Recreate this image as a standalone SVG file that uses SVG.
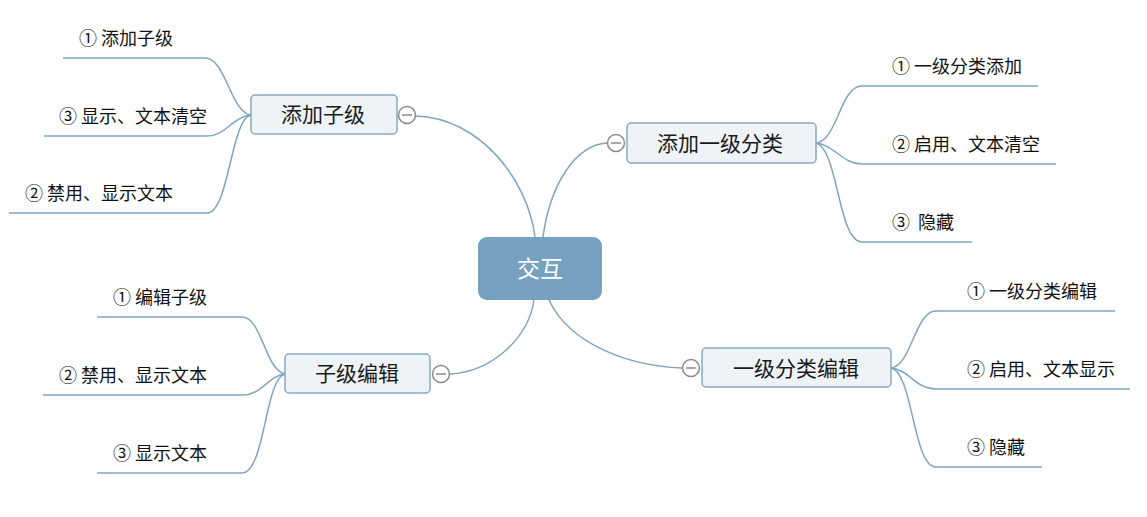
<svg xmlns="http://www.w3.org/2000/svg" width="1147" height="517" viewBox="0 0 1147 517">
  <style>
    .link { fill: none; stroke: #7fa5c2; stroke-width: 1.5; }
    .topic { fill: #eef3f7; stroke: #87a9c3; stroke-width: 1.5; }
    .root { fill: #76a1c0; }
    .t-root { font-family: "Noto Sans CJK SC", "Noto Sans", sans-serif; font-size: 23px; fill: #ffffff; text-anchor: middle; }
    .t-topic { font-family: "Noto Sans CJK SC", "Noto Sans", sans-serif; font-size: 21px; fill: #1a1a1a; text-anchor: middle; }
    .t-leaf { font-family: "Noto Sans CJK SC", "Noto Sans", sans-serif; font-size: 18px; fill: #111111; }
    .fold circle { fill: #ffffff; stroke: #8a8a8a; stroke-width: 1.5; }
    .fold line { stroke: #8a8a8a; stroke-width: 1.5; }
  </style>
  <defs>
    <g id="fold-btn" class="fold">
      <circle cx="0" cy="0" r="8.5"/>
      <line x1="-5" y1="0" x2="5" y2="0"/>
    </g>
  </defs>

  <!-- connectors -->
  <g id="connectors">
    <!-- root to main topics -->
    <path class="link" d="M535,237 C528,180 480,118 416,116"/>
    <path class="link" d="M543,237 C550,185 575,145 607,143"/>
    <path class="link" d="M534,300 C528,340 490,372 450,374"/>
    <path class="link" d="M549,300 C570,345 630,366 682,368"/>
    <!-- 添加子级 branches -->
    <path class="link" d="M63,58 H205 C226,58 230,112 251,115"/>
    <path class="link" d="M44,136 H207 C226,136 232,117 251,115"/>
    <path class="link" d="M9,213 H207 C229,213 231,118 251,115"/>
    <!-- 添加一级分类 branches -->
    <path class="link" d="M816,143 C838,140 840,86 862,86 H1038"/>
    <path class="link" d="M816,143 C835,145 842,164 862,164 H1056"/>
    <path class="link" d="M816,143 C838,148 838,242 862,242 H972"/>
    <!-- 子级编辑 branches -->
    <path class="link" d="M97,317 H242 C262,317 265,370 285,374"/>
    <path class="link" d="M43,395 H242 C262,395 268,376 285,374"/>
    <path class="link" d="M97,473 H242 C265,473 265,378 285,374"/>
    <!-- 一级分类编辑 branches -->
    <path class="link" d="M891,368 C912,365 915,311 936,311 H1115"/>
    <path class="link" d="M891,368 C910,370 915,389 936,389 H1130"/>
    <path class="link" d="M891,368 C913,372 913,467 936,467 H1042"/>
  </g>

  <!-- central topic -->
  <g id="node-root">
    <rect class="root" x="478" y="237" width="124" height="63" rx="9"/>
    <text class="t-root" x="540" y="277">交互</text>
  </g>

  <!-- main topics -->
  <g id="node-add-child">
    <rect class="topic" x="251" y="95" width="146" height="39" rx="4"/>
    <text class="t-topic" x="323" y="122">添加子级</text>
    <use href="#fold-btn" x="407" y="115"/>
  </g>
  <g id="node-add-level1">
    <rect class="topic" x="627" y="123" width="189" height="40" rx="4"/>
    <text class="t-topic" x="720" y="151">添加一级分类</text>
    <use href="#fold-btn" x="616" y="143"/>
  </g>
  <g id="node-edit-child">
    <rect class="topic" x="285" y="354" width="145" height="39" rx="4"/>
    <text class="t-topic" x="357" y="381">子级编辑</text>
    <use href="#fold-btn" x="441" y="374"/>
  </g>
  <g id="node-edit-level1">
    <rect class="topic" x="702" y="348" width="189" height="39" rx="4"/>
    <text class="t-topic" x="796" y="376">一级分类编辑</text>
    <use href="#fold-btn" x="691" y="368"/>
  </g>

  <!-- leaves -->
  <g id="leaf-ac-1"><text class="t-leaf" x="79" y="45">① 添加子级</text></g>
  <g id="leaf-ac-3"><text class="t-leaf" x="59" y="123">③ 显示、文本清空</text></g>
  <g id="leaf-ac-2"><text class="t-leaf" x="25" y="200">② 禁用、显示文本</text></g>

  <g id="leaf-al-1"><text class="t-leaf" x="892" y="73">① 一级分类添加</text></g>
  <g id="leaf-al-2"><text class="t-leaf" x="892" y="151">② 启用、文本清空</text></g>
  <g id="leaf-al-3"><text class="t-leaf" x="892" y="229" xml:space="preserve">③  隐藏</text></g>

  <g id="leaf-ec-1"><text class="t-leaf" x="113" y="304">① 编辑子级</text></g>
  <g id="leaf-ec-2"><text class="t-leaf" x="59" y="382">② 禁用、显示文本</text></g>
  <g id="leaf-ec-3"><text class="t-leaf" x="113" y="460">③ 显示文本</text></g>

  <g id="leaf-el-1"><text class="t-leaf" x="967" y="298">① 一级分类编辑</text></g>
  <g id="leaf-el-2"><text class="t-leaf" x="967" y="376">② 启用、文本显示</text></g>
  <g id="leaf-el-3"><text class="t-leaf" x="967" y="454">③ 隐藏</text></g>
</svg>
